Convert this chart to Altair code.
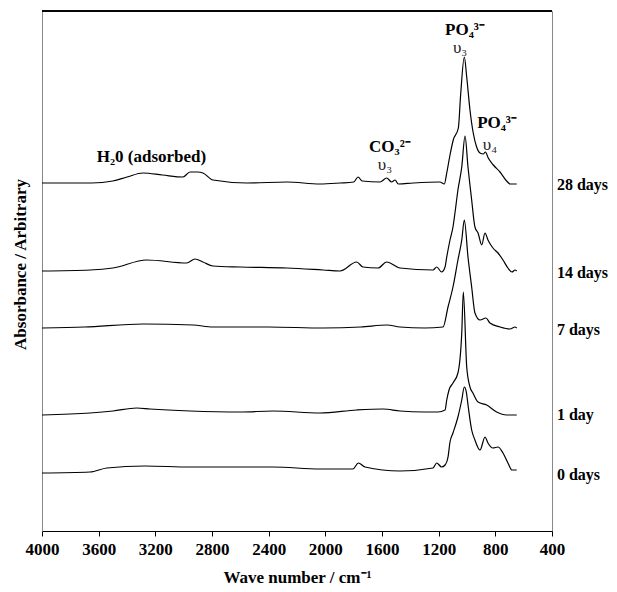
import altair as alt
import pandas as pd

# ---- data (wavenumber cm-1, absorbance in arbitrary offset units) ----
wn_28 = [4000, 3650, 3500, 3400, 3287, 3150, 3005, 2955, 2900, 2864, 2793, 2553, 2271, 2038, 1896,
         1800, 1769, 1740, 1614, 1567, 1532, 1508, 1485, 1379, 1191, 1160, 1143, 1120, 1097, 1061,
         1045, 1019, 1002, 979, 956, 932, 908, 885, 870, 850, 814, 767, 720, 696, 649]
ab_28 = [3.48, 3.48, 3.50, 3.54, 3.58, 3.56, 3.54, 3.59, 3.59, 3.58, 3.51, 3.48, 3.49, 3.47, 3.48,
         3.49, 3.54, 3.50, 3.49, 3.53, 3.49, 3.51, 3.47, 3.48, 3.49, 3.47, 3.58, 3.76, 3.91, 4.03,
         4.36, 4.74, 4.54, 4.21, 3.98, 3.84, 3.78, 3.77, 3.79, 3.73, 3.66, 3.59, 3.50, 3.47, 3.47]

wn_14 = [4000, 3661, 3500, 3261, 2979, 2920, 2864, 2793, 2602, 2271, 2016, 1896, 1779, 1734, 1628,
         1567, 1473, 1240, 1214, 1179, 1155, 1143, 1120, 1099, 1085, 1064, 1037, 1014, 993, 967,
         944, 922, 896, 873, 852, 817, 781, 746, 711, 682, 661, 649]
ab_14 = [2.60, 2.61, 2.63, 2.71, 2.68, 2.72, 2.69, 2.65, 2.64, 2.63, 2.61, 2.60, 2.69, 2.64, 2.63,
         2.69, 2.63, 2.61, 2.64, 2.59, 2.64, 2.74, 2.91, 3.04, 3.18, 3.41, 3.64, 3.95, 3.64, 3.31,
         3.04, 2.98, 2.86, 2.98, 2.91, 2.83, 2.78, 2.71, 2.63, 2.59, 2.61, 2.60]

wn_7 = [4000, 3700, 3287, 2934, 2793, 2400, 2016, 1750, 1565, 1473, 1300, 1169, 1134, 1099, 1064,
        1037, 1019, 993, 967, 944, 908, 866, 838, 767, 696, 661, 649]
ab_7 = [2.03, 2.04, 2.07, 2.06, 2.04, 2.04, 2.03, 2.04, 2.06, 2.04, 2.03, 2.04, 2.24, 2.44, 2.71,
        2.91, 3.11, 2.74, 2.44, 2.18, 2.11, 2.13, 2.08, 2.04, 2.02, 2.04, 2.03]

wn_1 = [4000, 3661, 3499, 3332, 3238, 2955, 2602, 2369, 2038, 1779, 1593, 1473, 1300, 1205, 1155,
        1143, 1127, 1099, 1064, 1037, 1026, 1002, 979, 958, 922, 861, 791, 720, 649]
ab_1 = [1.16, 1.18, 1.20, 1.23, 1.22, 1.20, 1.19, 1.20, 1.18, 1.21, 1.22, 1.20, 1.19, 1.19, 1.21,
        1.31, 1.41, 1.48, 1.58, 1.98, 2.39, 1.64, 1.44, 1.38, 1.29, 1.26, 1.19, 1.16, 1.16]

wn_0 = [4000, 3661, 3543, 3273, 2955, 2369, 2038, 1805, 1767, 1720, 1473, 1240, 1214, 1179, 1155,
        1134, 1120, 1099, 1064, 1037, 1019, 1005, 991, 967, 944, 908, 873, 852, 817, 781, 746,
        711, 682, 649]
ab_0 = [0.58, 0.59, 0.63, 0.65, 0.64, 0.64, 0.62, 0.62, 0.68, 0.64, 0.60, 0.63, 0.68, 0.64, 0.66,
        0.74, 0.89, 0.98, 1.14, 1.31, 1.44, 1.39, 1.24, 1.01, 0.91, 0.81, 0.94, 0.88, 0.83, 0.84,
        0.78, 0.68, 0.61, 0.61]

series_names = ["28 days", "14 days", "7 days", "1 day", "0 days"]
series_wn = [wn_28, wn_14, wn_7, wn_1, wn_0]
series_ab = [ab_28, ab_14, ab_7, ab_1, ab_0]

# labels at the right of each curve
label_ab = [3.46, 2.58, 2.01, 1.16, 0.56]
label_wn = 365

# band annotations
ann_text = ["H₂0 (adsorbed)", "CO₃²⁻", "PO₄³⁻", "PO₄³⁻"]
ann_wn = [3227, 1544, 1014, 788]
ann_ab = [3.74, 3.84, 5.01, 4.08]
mode_text = ["υ₃", "υ₃", "υ₄"]
mode_wn = [1579, 1049, 838]
mode_ab = [3.66, 4.83, 3.86]

x_ticks = [4000, 3600, 3200, 2800, 2400, 2000, 1600, 1200, 800, 400]

# ---- tables ----
rows = []
for name, w, a in zip(series_names, series_wn, series_ab):
    for wi, ai in zip(w, a):
        rows.append({"series": name, "wn": wi, "ab": ai})
df = pd.DataFrame(rows)
df_lab = pd.DataFrame({"label": series_names, "wn": [label_wn] * 5, "ab": label_ab})
df_ann = pd.DataFrame({"t": ann_text, "wn": ann_wn, "ab": ann_ab})
df_mode = pd.DataFrame({"t": mode_text, "wn": mode_wn, "ab": mode_ab})

FONT = "Liberation Serif"

xscale = alt.Scale(domain=[400, 4000], reverse=True, nice=False, zero=False)
yscale = alt.Scale(domain=[0, 5.2], nice=False, zero=False)

xenc = alt.X("wn:Q", scale=xscale,
             axis=alt.Axis(values=x_ticks, format="d", title="Wave number / cm⁻¹",
                           labelFont=FONT, labelFontSize=17, labelFontWeight="bold",
                           labelColor="black", labelPadding=5,
                           titleFont=FONT, titleFontSize=17, titleFontWeight="bold",
                           titleColor="black", titlePadding=12,
                           domainColor="black", tickColor="black", tickSize=5,
                           grid=False, labelFlush=False))
yenc = alt.Y("ab:Q", scale=yscale,
             axis=alt.Axis(labels=False, ticks=False, grid=False, domainColor="#888888",
                           title="Absorbance / Arbitrary", titleFont=FONT, titleFontSize=17,
                           titleFontWeight="bold", titleColor="black",
                           titleX=-17, titleY=253, titleBaseline="alphabetic", titleAngle=270))

lines = alt.Chart(df).mark_line(color="black", strokeWidth=1.2, interpolate="monotone").encode(
    x=xenc, y=yenc, detail="series:N", order="wn:Q"
)

labels = alt.Chart(df_lab).mark_text(
    align="left", baseline="middle", font=FONT, fontSize=16, fontWeight="bold", color="black",
    clip=False
).encode(x=alt.X("wn:Q", scale=xscale), y=alt.Y("ab:Q", scale=yscale), text="label:N")

ann = alt.Chart(df_ann).mark_text(
    align="center", baseline="middle", font=FONT, fontSize=17, fontWeight="bold", color="black"
).encode(x=alt.X("wn:Q", scale=xscale), y=alt.Y("ab:Q", scale=yscale), text="t:N")

modes = alt.Chart(df_mode).mark_text(
    align="center", baseline="middle", font=FONT, fontSize=17, color="#222222"
).encode(x=alt.X("wn:Q", scale=xscale), y=alt.Y("ab:Q", scale=yscale), text="t:N")

top_rule = alt.Chart(df_lab).mark_rule(color="black", strokeWidth=1).encode(
    x=alt.value(0), x2=alt.value(510), y=alt.value(0)
)

chart = alt.layer(lines, labels, ann, modes, top_rule).properties(
    width=510, height=520,
    autosize=alt.AutoSizeParams(type="none"),
    padding={"left": 34, "top": 3, "right": 57, "bottom": 58},
    background="white",
).configure_view(stroke="#888888", strokeWidth=1)

chart.save("out.html", embed_options={"renderer": "svg", "actions": False})
